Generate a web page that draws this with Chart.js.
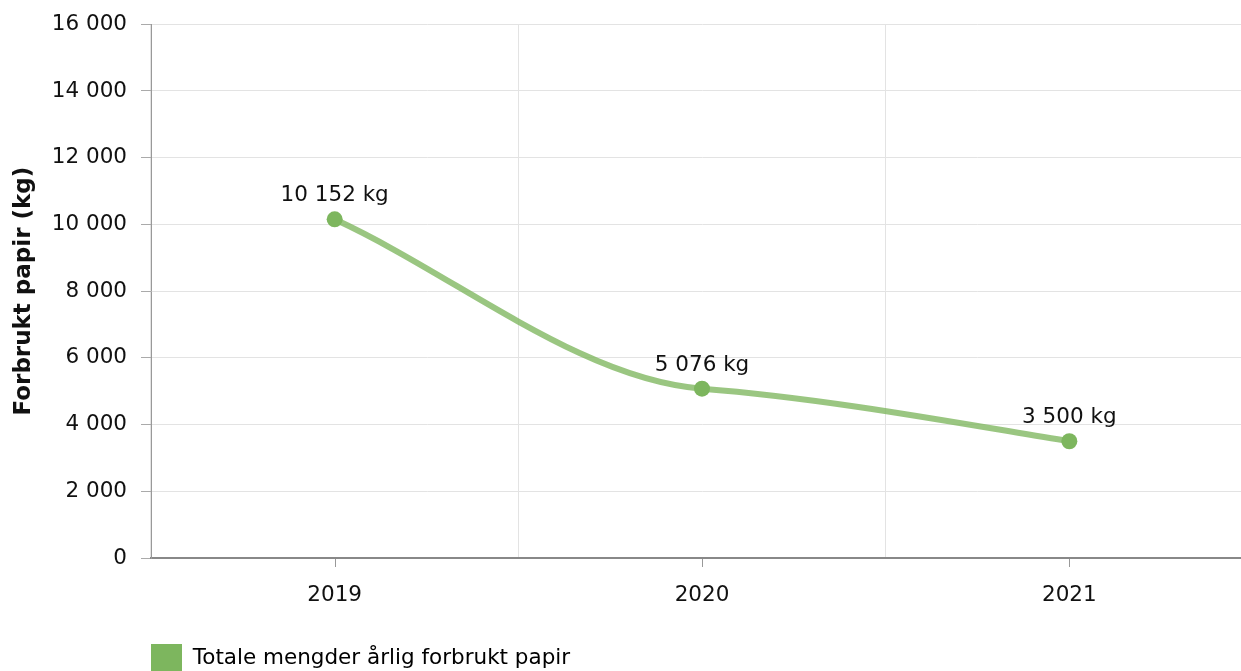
<!DOCTYPE html>
<html>
<head>
<meta charset="utf-8">
<script src="https://cdn.jsdelivr.net/npm/chart.js@4"></script>
<style>
    html, body { margin: 0; padding: 0; background: #fff; overflow: hidden; }
    #papirChart { display: block; }
</style>
</head>
<body>
<canvas id="papirChart" width="1261" height="682"></canvas>
<script>
// Data lest av grafen
const aar = ['2019', '2020', '2021'];
const forbruk = [10152, 5076, 3500];
const serieNavn = 'Totale mengder årlig forbrukt papir';
const yTittel = 'Forbrukt papir (kg)';

const FONT = "'DejaVu Sans', Verdana, sans-serif";
const GRONN = '#7db65e';
const TSTR = 21.5;

// Tall med mellomrom som tusenskille
function formatTall(v) {
    return String(Math.round(v)).replace(/\B(?=(\d{3})+(?!\d))/g, ' ');
}

// Myk kurve: kontrollpunkter ut fra tangenter i hvert punkt
const spline = {
    id: 'spline',
    beforeDatasetsDraw(chart) {
        const meta = chart.getDatasetMeta(0);
        const line = meta.dataset;
        line.updateControlPoints(chart.chartArea, meta.iScale.axis);
        const pts = line.points;
        const n = pts.length;
        const sek = [];
        for (let i = 0; i < n - 1; i++) {
            sek.push((pts[i + 1].y - pts[i].y) / (pts[i + 1].x - pts[i].x));
        }
        for (let i = 0; i < n; i++) {
            const p = pts[i];
            let m;
            if (i === 0) m = sek[0];
            else if (i === n - 1) m = sek[n - 2] * 1.15;
            else {
                const a = sek[i - 1], b = sek[i];
                m = (a * b > 0) ? Math.sign(a) * 0.55 * Math.min(Math.abs(a), Math.abs(b)) : 0;
            }
            const hForr = i > 0 ? (p.x - pts[i - 1].x) / 3 : 0;
            const hNeste = i < n - 1 ? (pts[i + 1].x - p.x) / 3 : 0;
            p.cp1x = p.x - hForr; p.cp1y = p.y - m * hForr;
            p.cp2x = p.x + hNeste; p.cp2y = p.y + m * hNeste;
        }
        line._path = undefined;
    }
};

// Verdietiketter over punktene
const etiketter = {
    id: 'etiketter',
    afterDatasetsDraw(chart) {
        const ctx = chart.ctx;
        const meta = chart.getDatasetMeta(0);
        ctx.save();
        ctx.font = TSTR + 'px ' + FONT;
        ctx.fillStyle = '#111';
        ctx.textAlign = 'center';
        ctx.textBaseline = 'alphabetic';
        meta.data.forEach((p, i) => {
            ctx.fillText(formatTall(forbruk[i]) + ' kg', p.x, p.y - 18);
        });
        ctx.restore();
    }
};

// Små streker under x-aksen midt på hver kategori
const xStreker = {
    id: 'xStreker',
    afterDraw(chart) {
        const x = chart.scales.x;
        const ctx = chart.ctx;
        ctx.save();
        ctx.strokeStyle = '#999';
        ctx.lineWidth = 1;
        aar.forEach((a, i) => {
            const px = Math.round(x.getPixelForValue(i)) + 0.5;
            ctx.beginPath();
            ctx.moveTo(px, x.top + 1);
            ctx.lineTo(px, x.top + 9);
            ctx.stroke();
        });
        ctx.restore();
    }
};

document.addEventListener('DOMContentLoaded', function() {
    const ctx = document.getElementById('papirChart').getContext('2d');
    new Chart(ctx, {
        type: 'line',
        data: {
            labels: aar,
            datasets: [{
                label: serieNavn,
                data: forbruk,
                borderColor: 'rgba(125, 182, 94, 0.78)',
                backgroundColor: GRONN,
                borderWidth: 6,
                tension: 0.4,
                pointRadius: 8,
                pointBorderWidth: 0,
                pointBackgroundColor: GRONN,
                fill: false
            }]
        },
        options: {
            responsive: false,
            animation: false,
            devicePixelRatio: 1,
            layout: { padding: { top: 0, right: 0, left: 0, bottom: 0 } },
            plugins: {
                legend: {
                    position: 'bottom',
                    align: 'start',
                    fullSize: false,
                    labels: {
                        boxWidth: 31,
                        boxHeight: 28,
                        padding: 0,
                        color: '#111',
                        font: { family: FONT, size: TSTR },
                        generateLabels: () => [{
                            text: serieNavn,
                            fillStyle: GRONN,
                            strokeStyle: GRONN,
                            lineWidth: 0,
                            datasetIndex: 0
                        }]
                    }
                },
                tooltip: { enabled: false }
            },
            scales: {
                x: {
                    offset: true,
                    grid: {
                        offset: true,
                        color: '#e3e3e3',
                        drawTicks: false
                    },
                    border: { color: '#888', width: 2 },
                    ticks: {
                        padding: 25,
                        color: '#111',
                        font: { family: FONT, size: TSTR }
                    },
                    afterFit: function(scale) { scale.height = 86; }
                },
                y: {
                    min: 0,
                    max: 16000,
                    ticks: {
                        stepSize: 2000,
                        padding: 14,
                        color: '#111',
                        font: { family: FONT, size: TSTR, lineHeight: 0.95 },
                        callback: v => formatTall(v)
                    },
                    grid: {
                        color: '#e3e3e3',
                        tickColor: '#aaa',
                        tickLength: 10
                    },
                    border: { color: '#999', width: 1 },
                    title: {
                        display: true,
                        text: yTittel,
                        color: '#111',
                        padding: { top: 10, bottom: 0 },
                        font: { family: FONT, size: 23, weight: 'bold' }
                    },
                    afterFit: function(scale) { scale.width = 151; }
                }
            }
        },
        plugins: [spline, etiketter, xStreker]
    });
});
</script>
</body>
</html>
